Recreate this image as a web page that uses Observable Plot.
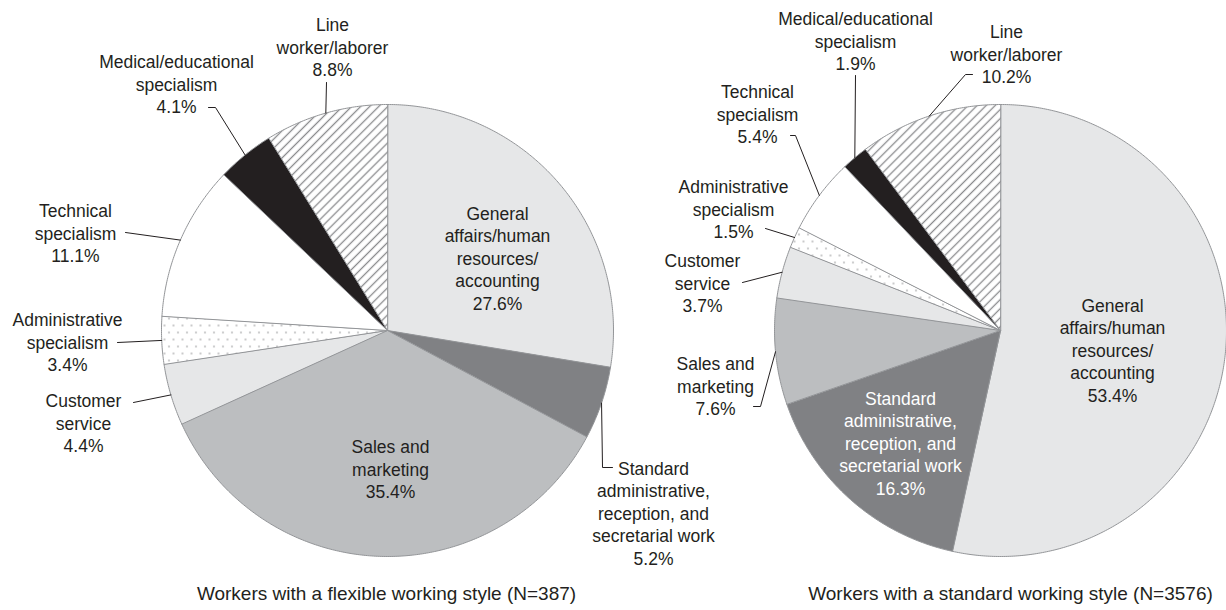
<!DOCTYPE html>
<html><head><meta charset="utf-8">
<script src="https://cdn.jsdelivr.net/npm/d3@7"></script>
<script src="https://cdn.jsdelivr.net/npm/@observablehq/plot@0.6"></script>
<style>html,body{margin:0;padding:0;background:#fff;} #chart svg{display:block}</style>
</head><body><div id="chart"></div>
<script>
// ---- data ----
const categories = [
  "General affairs/human resources/accounting",
  "Standard administrative, reception, and secretarial work",
  "Sales and marketing",
  "Customer service",
  "Administrative specialism",
  "Technical specialism",
  "Medical/educational specialism",
  "Line worker/laborer"
];
const labelText = [
  "General\naffairs/human\nresources/\naccounting",
  "Standard\nadministrative,\nreception, and\nsecretarial work",
  "Sales and\nmarketing",
  "Customer\nservice",
  "Administrative\nspecialism",
  "Technical\nspecialism",
  "Medical/educational\nspecialism",
  "Line\nworker/laborer"
];
const flexibleShares = [27.6, 5.2, 35.4, 4.4, 3.4, 11.1, 4.1, 8.8];
const standardShares = [53.4, 16.3, 7.6, 3.7, 1.5, 5.4, 1.9, 10.2];
const groupTitles = [
  "Workers with a flexible working style (N=387)",
  "Workers with a standard working style (N=3576)"
];

// ---- styles / layout ----
const sliceFills = ["#e6e7e8", "#808184", "#bcbec0", "#e6e7e8", "url(#dots)", "#ffffff", "#231f20", "url(#hatch)"];
const fontFamily = "'Liberation Sans', Arial, Helvetica, sans-serif";
const pieGeometry = [{cx: 387, cy: 330, r: 226}, {cx: 1000, cy: 330, r: 226}];
const labelLayout = [
  [
    {x: 497, y: 257},
    {x: 653, y: 512, leader: [[602, 467], [612, 467]]},
    {x: 390, y: 468},
    {x: 83, y: 422, leader: [[133, 402]]},
    {x: 67, y: 341, leader: [[117, 342]]},
    {x: 75, y: 232, leader: [[125, 232]]},
    {x: 176, y: 83, leader: [[215, 107], [208, 107]]},
    {x: 332, y: 46, leader: [[326, 82]]}
  ],
  [
    {x: 1112, y: 349},
    {x: 900, y: 442, color: "#ffffff"},
    {x: 715, y: 385, leader: [[760, 406], [753, 406]]},
    {x: 702, y: 282, leader: [[742, 282]]},
    {x: 733, y: 208, leader: [[765, 228]]},
    {x: 757, y: 113, leader: [[795, 135], [790, 135]]},
    {x: 855, y: 40, leader: [[855, 75]]},
    {x: 1006, y: 53, leader: [[965, 74], [972, 74]]}
  ]
];
const captionLayout = [{x: 386, y: 593}, {x: 1010, y: 593}];

// ---- build geometry from data ----
const step = Math.PI / 360;
const slices = [], leaders = [], labels = [];
[flexibleShares, standardShares].forEach((shares, p) => {
  const {cx, cy, r} = pieGeometry[p];
  const pt = (ang, rr) => ({x: cx + rr * Math.sin(ang), y: cy - rr * Math.cos(ang)});
  const arcs = d3.pie().sort(null).value(d => d)(shares);
  arcs.forEach((a, i) => {
    const id = `${p}-${i}`;
    const fill = sliceFills[i];
    slices.push({id, fill, ...pt(0, 0)});
    const n = Math.max(2, Math.ceil((a.endAngle - a.startAngle) / step));
    for (let k = 0; k <= n; k++) {
      slices.push({id, fill, ...pt(a.startAngle + (a.endAngle - a.startAngle) * k / n, r)});
    }
    const L = labelLayout[p][i];
    labels.push({x: L.x, y: L.y, text: `${labelText[i]}\n${shares[i].toFixed(1)}%`, color: L.color || "#231f20"});
    if (L.leader) {
      const mid = (a.startAngle + a.endAngle) / 2;
      leaders.push({id, ...pt(mid, r)});
      L.leader.forEach(([x, y]) => leaders.push({id, x, y}));
    }
  });
});

const svg = Plot.plot({
  width: 1226,
  height: 610,
  margin: 0,
  x: {type: "identity", axis: null},
  y: {type: "identity", axis: null},
  color: {type: "identity"},
  style: {fontFamily, background: "#ffffff", color: "#231f20"},
  marks: [
    Plot.line(slices, {x: "x", y: "y", z: "id", fill: "fill", stroke: "#939598", strokeWidth: 1, curve: "linear-closed", strokeLinejoin: "round"}),
    Plot.line(leaders, {x: "x", y: "y", z: "id", stroke: "#231f20", strokeWidth: 1}),
    Plot.text(labels, {x: "x", y: "y", text: "text", fill: "color", fontSize: 17.5, lineHeight: 1.29, lineAnchor: "middle"}),
    Plot.text(groupTitles, {x: (d, i) => captionLayout[i].x, y: (d, i) => captionLayout[i].y, text: d => d, fill: "#231f20", fontSize: 19})
  ]
});

const defs = document.createElementNS("http://www.w3.org/2000/svg", "defs");
defs.innerHTML = `
  <pattern id="hatch" patternUnits="userSpaceOnUse" width="6.4" height="6.4" patternTransform="rotate(45)">
    <rect width="6.4" height="6.4" fill="#ffffff"/>
    <line x1="3.2" y1="0" x2="3.2" y2="6.4" stroke="#8a8b8d" stroke-width="1.3"/>
  </pattern>
  <pattern id="dots" patternUnits="userSpaceOnUse" width="9" height="14">
    <rect width="9" height="14" fill="#ffffff"/>
    <circle cx="2" cy="3" r="0.7" fill="#6d6e71"/>
    <circle cx="6.5" cy="10" r="0.7" fill="#6d6e71"/>
  </pattern>`;
svg.insertBefore(defs, svg.firstChild);
document.getElementById("chart").appendChild(svg);
</script>
</body></html>
